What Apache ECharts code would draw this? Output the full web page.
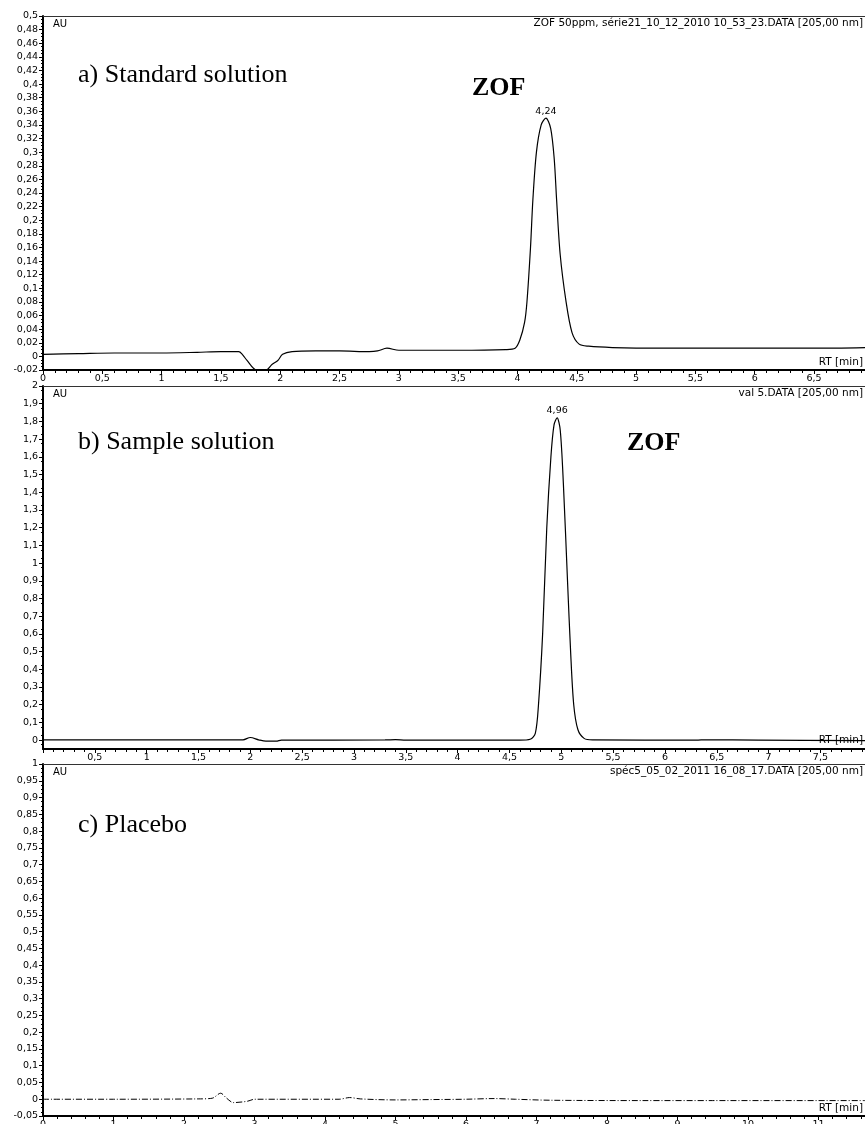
<!DOCTYPE html>
<html><head><meta charset="utf-8">
<script src="https://cdn.jsdelivr.net/npm/echarts@6/dist/echarts.min.js"></script>
<style>html,body{margin:0;padding:0;background:#fff;overflow:hidden}#c{width:865px;height:1124px}</style>
</head><body><div id="c"></div>
<script>
// Panel a) Standard solution
const timeA = [0,0.3,0.6,1.0,1.3,1.5,1.65,1.68,1.72,1.8,1.88,1.93,1.98,2.02,2.1,2.3,2.5,2.75,2.82,2.9,3.0,3.5,3.9,3.98,4.02,4.06,4.08,4.11,4.13,4.16,4.2,4.24,4.28,4.31,4.33,4.36,4.41,4.46,4.52,4.6,4.8,5.2,5.6,6.0,6.5,6.93];
const auA   = [0.003,0.004,0.005,0.005,0.006,0.007,0.007,0.003,-0.006,-0.02,-0.02,-0.012,-0.006,0.003,0.007,0.008,0.008,0.007,0.008,0.012,0.009,0.009,0.010,0.012,0.024,0.05,0.08,0.16,0.23,0.30,0.34,0.35,0.335,0.29,0.23,0.15,0.08,0.035,0.018,0.015,0.013,0.012,0.012,0.012,0.012,0.013];
// Panel b) Sample solution
const timeB = [0,0.8,1.7,1.93,2.0,2.08,2.15,2.25,2.3,3.3,3.4,3.5,4.6,4.7,4.75,4.78,4.82,4.86,4.9,4.93,4.96,4.99,5.02,5.06,5.09,5.12,5.16,5.22,5.3,6.3,6.4,6.9,7.93];
const auB   = [0.001,0.001,0.001,0.002,0.015,0.002,-0.006,-0.006,0.0,0.001,0.003,0.0,0.0,0.005,0.04,0.2,0.6,1.2,1.6,1.78,1.82,1.75,1.45,0.9,0.5,0.2,0.06,0.01,0.001,0.0,0.002,0.0,-0.003];
// Panel c) Placebo
const timeC = [0,1.0,2.2,2.4,2.52,2.6,2.7,2.9,3.0,4.2,4.35,4.5,5.0,5.5,6.0,6.4,6.7,7.2,8.5,9.5,11.66];
const auC   = [0.0,0.0,0.001,0.003,0.018,0.004,-0.01,-0.006,0.0,0.0,0.005,0.001,-0.002,-0.001,0.0,0.002,0.0,-0.003,-0.004,-0.004,-0.004];

// Y tick values of panel b (0 .. 2 by 0.1)
const ticksB = [0,0.1,0.2,0.3,0.4,0.5,0.6,0.7,0.8,0.9,1,1.1,1.2,1.3,1.4,1.5,1.6,1.7,1.8,1.9,2];

const peakA = {t:4.24, v:0.35, label:'4,24'};
const peakB = {t:4.96, v:1.82, label:'4,96'};

const pair = (xs, ys) => xs.map((x,i)=>[x, ys[i]]);
const fmt = v => String(Math.round(v*1000)/1000).replace('.', ',');
const tickFont = {fontFamily:'DejaVu Sans', fontSize:9.5, color:'#000'};

function yAxis(grid, min, max, interval, minorSplit, custom){
  const ax = {type:'value', gridIndex:grid, min, max, interval,
    axisLine:{show:true, lineStyle:{color:'#000', width:2}},
    axisTick:{show:true, length:4, lineStyle:{color:'#000', width:1}},
    minorTick:{show:true, splitNumber:minorSplit, length:2, lineStyle:{color:'#000'}},
    splitLine:{show:false},
    axisLabel:Object.assign({formatter:fmt, margin:5, showMinLabel:true, showMaxLabel:true}, tickFont)};
  if (custom){ ax.axisTick.customValues = custom; ax.axisLabel.customValues = custom; }
  return ax;
}
function xAxis(grid, max, interval, minor, showMin){
  return {type:'value', gridIndex:grid, min:0, max, interval,
    axisLine:{show:true, onZero:false, lineStyle:{color:'#000', width:2}},
    axisTick:{show:true, length:4, lineStyle:{color:'#000', width:1}},
    minorTick:{show:true, splitNumber:minor, length:3, lineStyle:{color:'#000'}},
    splitLine:{show:false},
    axisLabel:Object.assign({formatter:fmt, margin:4, showMinLabel:showMin, showMaxLabel:false}, tickFont)};
}
function topAxis(grid, max){
  return {type:'value', gridIndex:grid, position:'top', min:0, max,
    axisLine:{show:true, onZero:false, lineStyle:{color:'#333', width:1}},
    axisTick:{show:false}, axisLabel:{show:false}, splitLine:{show:false}};
}
function peakMark(p){
  return {symbol:'circle', symbolSize:0, silent:true,
    label:{show:true, position:'top', distance:2, formatter:p.label, fontFamily:'DejaVu Sans', fontSize:9.5, color:'#000'},
    data:[{coord:[p.t, p.v]}]};
}

const chart = echarts.init(document.getElementById('c'), null, {renderer:'canvas'});
const txt = (x,y,t,opt) => ({type:'text', left:x, top:y, style:Object.assign({text:t, fill:'#000'}, opt)});
const rtxt = (y,t) => ({type:'text', right:2, top:y, style:{text:t, fill:'#000', font:'10.5px "DejaVu Sans"'}});
const small = {font:'10px "DejaVu Sans"'};
const big = {font:'26px "Liberation Serif"'};
const bold = {font:'bold 26px "Liberation Serif"'};

chart.setOption({
  animation:false,
  backgroundColor:'#fff',
  grid:[
    {left:43, right:0, top:16, height:354, outerBoundsMode:'none'},
    {left:43, right:0, top:386, height:363, outerBoundsMode:'none'},
    {left:43, right:0, top:764, height:352, outerBoundsMode:'none'}
  ],
  xAxis:[
    xAxis(0, 6.93, 0.5, 5, true),
    xAxis(1, 7.93, 0.5, 5, false),
    xAxis(2, 11.66, 1, 5, true),
    topAxis(0, 6.93), topAxis(1, 7.93), topAxis(2, 11.66)
  ],
  yAxis:[
    yAxis(0, -0.02, 0.5, 0.02, 4, null),
    yAxis(1, -0.05, 2, 0.05, 2, ticksB),
    yAxis(2, -0.05, 1, 0.05, 4, null)
  ],
  series:[
    {type:'line', xAxisIndex:0, yAxisIndex:0, data:pair(timeA, auA), showSymbol:false, symbol:'none', smooth:0.3,
      lineStyle:{color:'#000', width:1.2}, markPoint:peakMark(peakA)},
    {type:'line', xAxisIndex:1, yAxisIndex:1, data:pair(timeB, auB), showSymbol:false, symbol:'none', smooth:0.3,
      lineStyle:{color:'#000', width:1.2}, markPoint:peakMark(peakB)},
    {type:'line', xAxisIndex:2, yAxisIndex:2, data:pair(timeC, auC), showSymbol:false, symbol:'none', smooth:0.3,
      lineStyle:{color:'#000', width:1, type:[6,2,1,2]}}
  ],
  graphic:[
    txt(53, 19, 'AU', small),
    rtxt(18, 'ZOF 50ppm, série21_10_12_2010 10_53_23.DATA [205,00 nm]'),
    rtxt(357, 'RT [min]'),
    txt(78, 62, 'a) Standard solution', big),
    txt(472, 75, 'ZOF', bold),

    txt(53, 389, 'AU', small),
    rtxt(388, 'val 5.DATA [205,00 nm]'),
    rtxt(735, 'RT [min]'),
    txt(78, 429, 'b) Sample solution', big),
    txt(627, 430, 'ZOF', bold),

    txt(53, 767, 'AU', small),
    rtxt(766, 'spéc5_05_02_2011 16_08_17.DATA [205,00 nm]'),
    rtxt(1103, 'RT [min]'),
    txt(78, 812, 'c) Placebo', big)
  ]
});
</script></body></html>
